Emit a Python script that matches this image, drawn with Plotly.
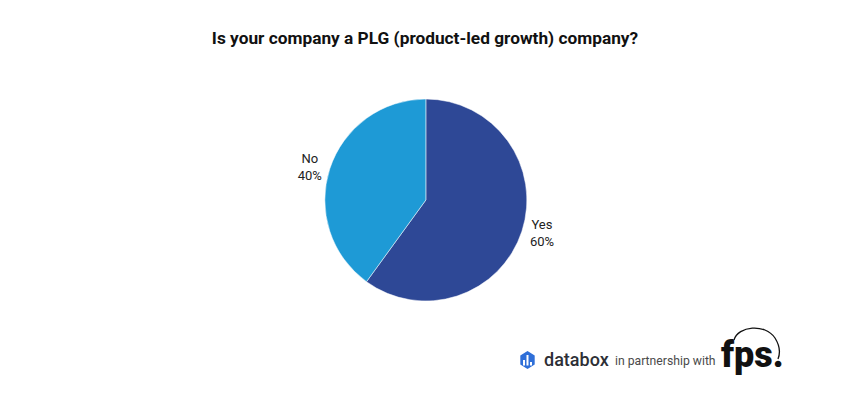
import math
import re
import plotly.graph_objects as go

labels = ["Yes", "No"]
values = [60, 40]
colors = ["#2E4896", "#1E9AD6"]
title = "Is your company a PLG (product-led growth) company?"

W, H = 850, 400

fig = go.Figure(go.Pie(
    labels=labels,
    values=values,
    sort=False,
    direction="clockwise",
    rotation=0,
    marker=dict(colors=colors, line=dict(color="white", width=0.5)),
    texttemplate="%{label}<br>%{percent:.0%}",
    textposition="outside",
    textfont=dict(family="Roboto", size=13, color="#222222"),
    outsidetextfont=dict(family="Roboto", size=13, color="#222222"),
    showlegend=False,
    hoverinfo="label+percent",
    domain=dict(x=[0.25, 0.752], y=[1 - 301 / H, 1 - 99 / H]),
))

shapes = []
# databox hexagon icon
cx, cy, r = 527.5, 360, 9
pts = []
for k in range(6):
    a = math.radians(90 + 60 * k)
    pts.append((cx + r * math.cos(a) * 0.92, cy - r * math.sin(a)))
path = "M " + " L ".join(f"{x:.1f},{y:.1f}" for x, y in pts) + " Z"
shapes.append(dict(type="path", path=path, fillcolor="#2F6FD8", line=dict(width=0)))
for bx, top in [(524, 360), (527.5, 355), (531, 362)]:
    shapes.append(dict(type="rect", x0=bx - 1, x1=bx + 1, y0=top, y1=365.5,
                       fillcolor="white", line=dict(width=0)))
# fps arc
shapes.append(dict(type="path",
                   path="M 734,340 C 738,326 765,323 775,338 C 780,346 780,354 778,359",
                   line=dict(color="#111111", width=1.3)))


def px_shape(s):
    s.update(xref="paper", yref="paper", layer="above")
    if s["type"] == "path":
        def repl(m):
            x = float(m.group(1)); y = float(m.group(2))
            return f"{x / W:.5f},{1 - y / H:.5f}"
        s["path"] = re.sub(r"(-?\d+\.?\d*),(-?\d+\.?\d*)", repl, s["path"])
    else:
        y0, y1 = s["y0"], s["y1"]
        s["x0"], s["x1"] = s["x0"] / W, s["x1"] / W
        s["y0"], s["y1"] = 1 - y1 / H, 1 - y0 / H
    return s


shapes = [px_shape(s) for s in shapes]

annotations = [
    dict(text="databox", x=542 / W, y=1 - 359 / H, xref="paper", yref="paper",
         xanchor="left", yanchor="middle", showarrow=False,
         font=dict(family="Roboto", size=18, color="#2d2f36", weight=500)),
    dict(text="in partnership with", x=613 / W, y=1 - 361 / H, xref="paper", yref="paper",
         xanchor="left", yanchor="middle", showarrow=False,
         font=dict(family="Roboto", size=12.2, color="#4a4a4a")),
    dict(text="fps.", x=719 / W, y=1 - 355 / H, xref="paper", yref="paper",
         xanchor="left", yanchor="middle", showarrow=False,
         font=dict(family="Roboto", size=36, color="#111111", weight=900)),
]

fig.update_layout(
    width=W, height=H,
    margin=dict(l=0, r=0, t=0, b=0),
    paper_bgcolor="white", plot_bgcolor="white",
    title=dict(text="<b>" + title + "</b>", x=0.5, xanchor="center",
               y=1 - 38 / H, yanchor="middle",
               font=dict(family="Roboto", size=17.3, color="#111111")),
    shapes=shapes,
    annotations=annotations,
)

fig.write_html("out.html", config={"displayModeBar": False},
               post_script="document.body.style.margin='0';")
